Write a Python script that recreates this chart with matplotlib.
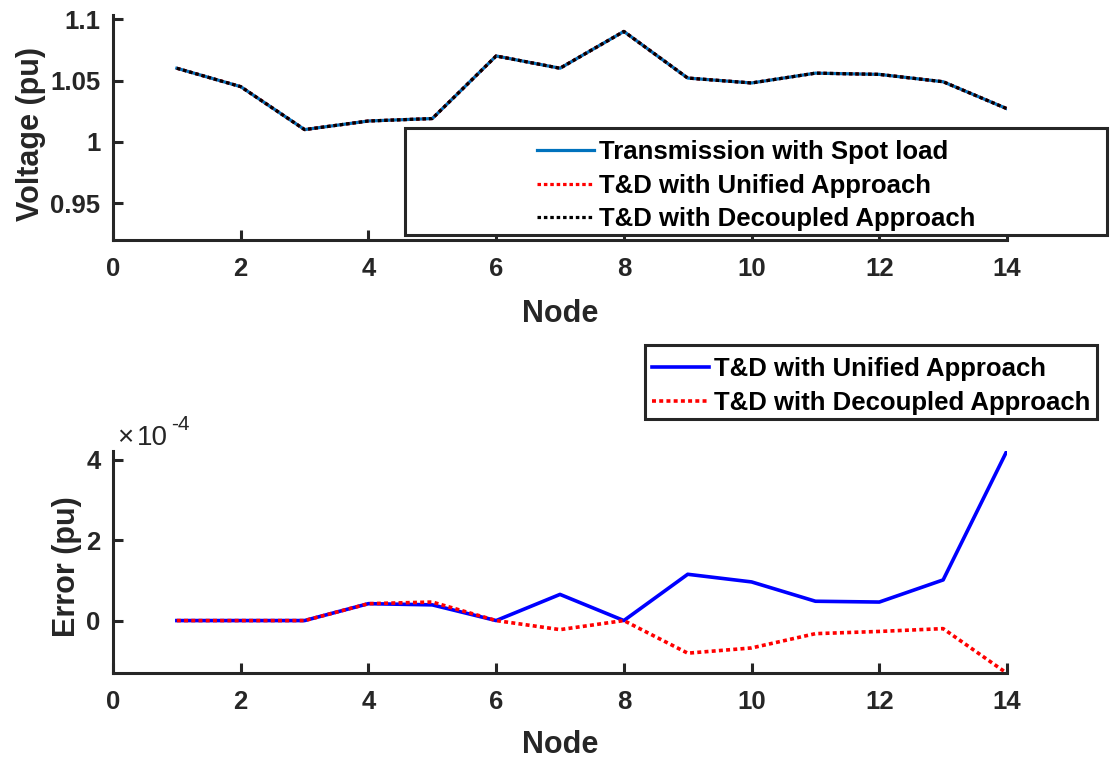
import matplotlib
matplotlib.use("Agg")
import matplotlib.pyplot as plt
from matplotlib.patches import Rectangle
from matplotlib.ticker import FuncFormatter

plt.rcParams["font.family"] = ["Liberation Sans", "DejaVu Sans"]
plt.rcParams["font.weight"] = "bold"
plt.rcParams["axes.labelweight"] = "bold"

node = list(range(1, 15))

# bus voltages (pu)
v_spot = [1.060, 1.045, 1.010, 1.017, 1.019, 1.070, 1.060, 1.090, 1.052, 1.048, 1.056, 1.055, 1.049, 1.027]
v_unified = [1.060, 1.045, 1.010, 1.017, 1.019, 1.070, 1.060, 1.090, 1.052, 1.048, 1.056, 1.055, 1.049, 1.027]
v_decoupled = [1.060, 1.045, 1.010, 1.017, 1.019, 1.070, 1.060, 1.090, 1.052, 1.048, 1.056, 1.055, 1.049, 1.027]

# voltage error against the spot-load case (pu)
err_unified = [0.0, 0.0, 0.0, 0.42e-4, 0.39e-4, 0.0, 0.65e-4, 0.0, 1.15e-4, 0.96e-4, 0.48e-4, 0.46e-4, 1.01e-4, 4.22e-4]
err_decoupled = [0.0, 0.0, 0.0, 0.42e-4, 0.46e-4, 0.0, -0.225e-4, 0.0, -0.81e-4, -0.68e-4, -0.325e-4, -0.27e-4, -0.2e-4, -1.31e-4]

x_ticks = [0, 2, 4, 6, 8, 10, 12, 14]
v_ticks = [0.95, 1.0, 1.05, 1.1]
err_ticks = [0.0, 2e-4, 4e-4]

INK = "#262626"
W, H = 1110, 761
fig = plt.figure(figsize=(W / 100, H / 100), dpi=100)


def px_axes(left, top, right, bottom):
    return fig.add_axes([left / W, 1 - bottom / H, (right - left) / W, (bottom - top) / H])


def style_axes(ax):
    for side in ["top", "right"]:
        ax.spines[side].set_visible(False)
    for side in ["left", "bottom"]:
        ax.spines[side].set_linewidth(2.2)
        ax.spines[side].set_color(INK)
    ax.tick_params(direction="in", length=7, width=2.2, color=INK, labelcolor=INK, labelsize=18.5)
    ax.tick_params(axis="x", pad=12)
    ax.tick_params(axis="y", pad=9)
    ax.set_xlim(0, 14)
    ax.set_xticks(x_ticks)
    ax.set_xlabel("Node", fontsize=22, color=INK)


dot = (1.1, 0.9)

# voltage profile
ax1 = px_axes(113, 15, 1007, 240)
l1, = ax1.plot(node, v_spot, color="#0072BD", lw=2.3)
l2, = ax1.plot(node, v_unified, color="#FF0000", lw=2.3, linestyle=(0, dot))
l3, = ax1.plot(node, v_decoupled, color="black", lw=2.3, linestyle=(0, dot))
style_axes(ax1)
ax1.set_ylim(0.92, 1.1034)
ax1.set_yticks(v_ticks)
ax1.yaxis.set_major_formatter(FuncFormatter(lambda v, p: f"{v:g}"))
ax1.set_ylabel("Voltage (pu)", fontsize=22, color=INK)
ax1.yaxis.set_label_coords(-0.075, 0.47)
ax1.xaxis.set_label_coords(0.5, -0.262)

# error profile
ax2 = px_axes(113, 450.7, 1007, 673.3)
e1, = ax2.plot(node, err_unified, color="#0000FF", lw=2.6)
e2, = ax2.plot(node, err_decoupled, color="#FF0000", lw=2.6, linestyle=(0, dot))
style_axes(ax2)
ax2.set_ylim(min(err_decoupled), max(err_unified))
ax2.set_yticks(err_ticks)
ax2.yaxis.set_major_formatter(FuncFormatter(lambda v, p: f"{v / 1e-4:g}"))
ax2.set_ylabel("Error (pu)", fontsize=22, color=INK)
ax2.yaxis.set_label_coords(-0.035, 0.478)
ax2.xaxis.set_label_coords(0.5, -0.255)

# exponent label of the error axis
for x, y, s, size in [(117, 445, "\u00d7", 20), (137, 445, "10", 20), (171, 430, "-4", 15)]:
    fig.text(x / W, 1 - y / H, s, fontsize=size, fontweight="normal", color=INK,
             ha="left", va="baseline")


def boxed_legend(handles, labels, left, top, right, bottom):
    fig.add_artist(Rectangle((left / W, 1 - bottom / H), (right - left) / W, (bottom - top) / H,
                             transform=fig.transFigure, facecolor="white", edgecolor=INK,
                             linewidth=2.2, zorder=4))
    # entries sit a little low inside the box
    mid_y = (top + bottom) / 2 + 4
    fig.legend(handles, labels, loc="center", frameon=False,
               bbox_to_anchor=((left + right) / 2 / W, 1 - mid_y / H),
               bbox_transform=fig.transFigure, fontsize=18.5, handlelength=2.2,
               handletextpad=0.2, labelspacing=0.36, borderpad=0.0, labelcolor="black")


boxed_legend([l1, l2, l3],
             ["Transmission with Spot load", "T&D with Unified Approach", "T&D with Decoupled Approach"],
             405, 128, 1107, 235)
boxed_legend([e1, e2],
             ["T&D with Unified Approach", "T&D with Decoupled Approach"],
             645, 345, 1097, 419)

fig.savefig("out.png", dpi=100)
